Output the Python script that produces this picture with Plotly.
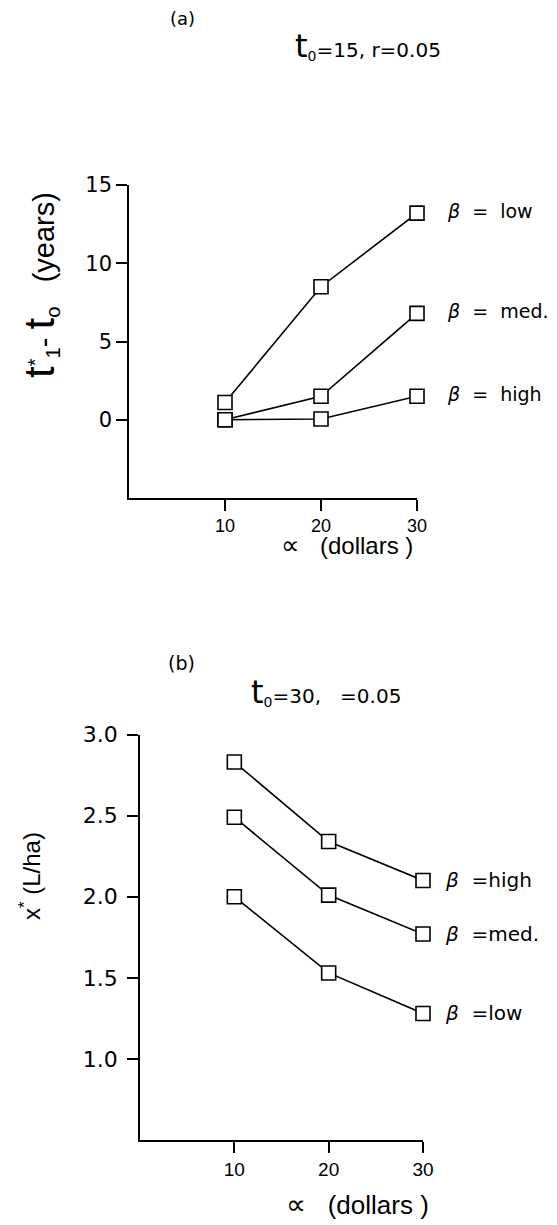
import plotly.graph_objects as go

W, H = 557, 1225

# Panel (a): t1* - t0 (years) versus alpha (dollars), t0 = 15, r = 0.05
alpha = [10, 20, 30]
a_low = [1.1, 8.5, 13.2]
a_med = [0.0, 1.5, 6.8]
a_high = [0.0, 0.05, 1.5]
a_yticks = [0, 5, 10, 15]

# Panel (b): x* (L/ha) versus alpha (dollars), t0 = 30
b_high = [2.83, 2.34, 2.10]
b_med = [2.49, 2.01, 1.77]
b_low = [2.00, 1.53, 1.28]
b_yticks = [1.0, 1.5, 2.0, 2.5, 3.0]

x_ticks = [10, 20, 30]
labels_a = ["low", "med.", "high"]
labels_b = ["high", "med.", "low"]


def px(x):
    return x / W


def py(y):
    return 1 - y / H


SANS = "Liberation Sans"
WIDE = "DejaVu Sans"
marker = dict(symbol="square", size=14, color="white", line=dict(color="black", width=1.6))
line = dict(color="black", width=1.6)

fig = go.Figure()

for ys in (a_low, a_med, a_high):
    fig.add_trace(go.Scatter(x=alpha, y=ys, mode="lines+markers", line=line,
                             marker=marker, xaxis="x", yaxis="y", showlegend=False,
                             cliponaxis=False))
for ys in (b_high, b_med, b_low):
    fig.add_trace(go.Scatter(x=alpha, y=ys, mode="lines+markers", line=line,
                             marker=marker, xaxis="x2", yaxis="y2", showlegend=False,
                             cliponaxis=False))

axis_common = dict(showline=True, linecolor="black", linewidth=1.5, ticks="outside",
                   ticklen=11, tickwidth=1.5, tickcolor="black", showgrid=False,
                   zeroline=False, color="black", automargin=False)

annotations = []

# series labels next to the last point of each line
for ys, lab in zip((a_low, a_med, a_high), labels_a):
    annotations.append(dict(x=alpha[-1], y=ys[-1], xref="x", yref="y",
                            text="<i>β</i>  =  " + lab, showarrow=False,
                            xanchor="left", yanchor="middle", xshift=28, yshift=2,
                            font=dict(family=WIDE, size=19, color="black")))
for ys, lab in zip((b_high, b_med, b_low), labels_b):
    annotations.append(dict(x=alpha[-1], y=ys[-1], xref="x2", yref="y2",
                            text="<i>β</i>  =" + lab, showarrow=False,
                            xanchor="left", yanchor="middle", xshift=20, yshift=0,
                            font=dict(family=WIDE, size=20, color="black")))


def paper_note(x, y, text, size, family=WIDE, angle=0):
    return dict(x=px(x), y=py(y), xref="paper", yref="paper", text=text,
                showarrow=False, xanchor="center", yanchor="middle", textangle=angle,
                font=dict(family=family, size=size, color="black"))


BIG_T = "<span style='font-size:32px'>t</span>"
AX_T = "<span style='font-size:42px'>t</span>"
PROP_A = "<span style='font-size:26px'>∝</span>"
PROP_B = "<span style='font-size:28px'>∝</span>"

annotations += [
    # panel headings
    paper_note(182, 19, "(a)", 18),
    paper_note(368, 46, BIG_T + "<sub>0</sub>=15, r=0.05", 20),
    paper_note(181, 663, "(b)", 19),
    paper_note(326, 692, BIG_T + "<sub>0</sub>=30,   =0.05", 20),
    # axis titles
    paper_note(40, 285, AX_T + "<sup>*</sup><sub>1</sub>- " + AX_T + "<sub>o</sub>   (years)",
               29, family=SANS, angle=-90),
    paper_note(347, 545, PROP_A + "   (dollars )", 24, family=SANS),
    paper_note(30, 876, "x<sup>*</sup> (L/ha)", 24, family=SANS, angle=-90),
    paper_note(357, 1204, PROP_B + "   (dollars )", 26, family=SANS),
]

fig.update_layout(
    template="none",
    width=W, height=H,
    margin=dict(l=0, r=0, t=0, b=0),
    paper_bgcolor="white", plot_bgcolor="white",
    font=dict(family=WIDE, color="black"),
    xaxis=dict(domain=[px(129), px(417)], range=[0, 30], tickvals=x_ticks,
               anchor="y", tickfont=dict(family=SANS, size=18), **axis_common),
    yaxis=dict(domain=[py(498), py(185)], range=[-5, 15], tickvals=a_yticks,
               anchor="x", tickfont=dict(size=21), **axis_common),
    xaxis2=dict(domain=[px(140), px(423)], range=[0, 30], tickvals=x_ticks,
                anchor="y2", tickfont=dict(family=SANS, size=19), **axis_common),
    yaxis2=dict(domain=[py(1140), py(734.5)], range=[0.5, 3.0], tickvals=b_yticks,
                tickformat=".1f", anchor="x2", tickfont=dict(size=22),
                ticklabelstandoff=5, **axis_common),
    annotations=annotations,
)

fig.write_html("out.html")
